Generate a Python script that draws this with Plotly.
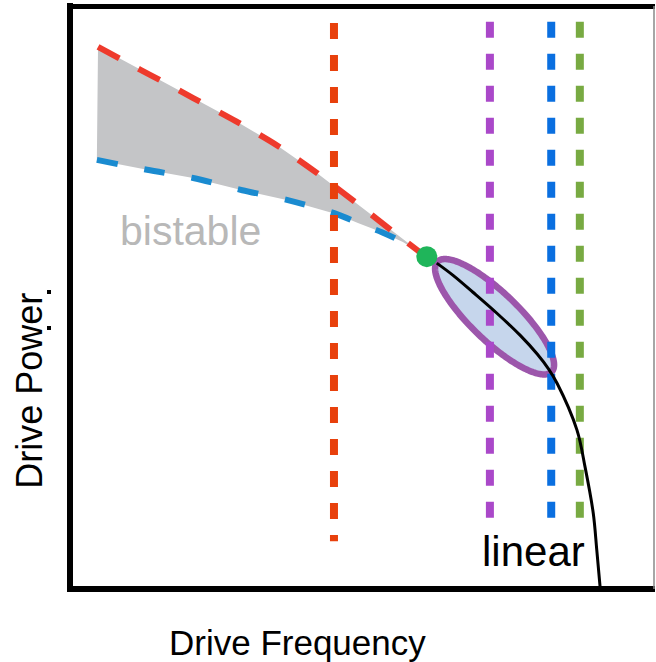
import numpy as np
import plotly.graph_objects as go

# ---- data (arbitrary units: frequency 0..10, power 0..10) ----
upper_freq = [0.48, 0.99, 1.37, 2.11, 2.83, 3.56, 4.25, 4.93, 5.62, 6.03]
upper_power = [9.30, 9.02, 8.82, 8.42, 8.03, 7.60, 7.12, 6.60, 6.06, 5.75]

lower_freq = [0.46, 1.32, 2.11, 2.95, 3.73, 4.57, 4.93, 5.34, 5.70, 6.03]
lower_power = [7.36, 7.19, 7.05, 6.84, 6.67, 6.43, 6.28, 6.12, 5.95, 5.75]

linear_freq = [6.28, 6.56, 6.90, 7.31, 7.71, 8.00, 8.19, 8.34, 8.68, 8.82, 8.96, 9.02, 9.08]
linear_power = [5.59, 5.38, 5.09, 4.73, 4.35, 4.03, 3.78, 3.53, 2.73, 2.09, 1.30, 0.67, 0.0]

critical_point = (6.11, 5.70)

ellipse_center = (7.27, 4.67)
ellipse_half_length = 1.36
ellipse_half_width = 0.41
ellipse_tilt_deg = -44.0

vline_freq = [4.52, 7.19, 8.24, 8.73]
vline_top = [9.71, 9.73, 9.73, 9.73]
vline_bottom = [0.82, 1.22, 1.22, 1.22]
vline_colors = ["#e8400c", "#aa48c9", "#0a6fe0", "#78aa42"]

FONT = "Liberation Sans, Arial, sans-serif"

fig = go.Figure()

# bistable region fill
fig.add_trace(go.Scatter(
    x=upper_freq + lower_freq[::-1], y=upper_power + lower_power[::-1],
    fill="toself", fillcolor="#c4c5c7", line=dict(width=0), mode="lines",
    hoverinfo="skip", showlegend=False))

# lower (blue) and upper (red) bifurcation curves
fig.add_trace(go.Scatter(
    x=lower_freq, y=lower_power, mode="lines",
    line=dict(color="#1a8bd0", width=6, dash="21px,27px", shape="spline", smoothing=0.8, simplify=False),
    showlegend=False))
fig.add_trace(go.Scatter(
    x=upper_freq, y=upper_power, mode="lines",
    line=dict(color="#ee3a2c", width=6, dash="24px,22px", shape="spline", smoothing=0.8, simplify=False),
    showlegend=False))

# ellipse
t = np.linspace(0, 2 * np.pi, 241)
th = np.deg2rad(ellipse_tilt_deg)
ex = ellipse_center[0] + ellipse_half_length * np.cos(t) * np.cos(th) - ellipse_half_width * np.sin(t) * np.sin(th)
ey = ellipse_center[1] + ellipse_half_length * np.cos(t) * np.sin(th) + ellipse_half_width * np.sin(t) * np.cos(th)
fig.add_trace(go.Scatter(
    x=ex, y=ey, fill="toself", fillcolor="#c6d6ec", mode="lines",
    line=dict(color="#9c56ab", width=6.5, simplify=False), showlegend=False))

# vertical dashed lines
for f, top, bot, c in zip(vline_freq, vline_top, vline_bottom, vline_colors):
    fig.add_trace(go.Scatter(
        x=[f, f], y=[top, bot], mode="lines",
        line=dict(color=c, width=8, dash="16px,16px"), showlegend=False))

# linear response curve
fig.add_trace(go.Scatter(
    x=linear_freq, y=linear_power, mode="lines",
    line=dict(color="black", width=3, shape="spline", smoothing=1.0, simplify=False), showlegend=False))

# critical point
fig.add_trace(go.Scatter(
    x=[critical_point[0]], y=[critical_point[1]], mode="markers",
    marker=dict(color="#1fb55a", size=21), showlegend=False))

# frame (left/top/bottom thick, right thin)
W, H = 584.0, 583.0
def px(v):
    return v / W
def py(v):
    return v / H
shapes = [
    dict(type="line", xref="paper", yref="paper", x0=0, x1=0, y0=py(-3), y1=1 + py(3),
         line=dict(color="black", width=6)),
    dict(type="line", xref="paper", yref="paper", x0=px(-3), x1=1 + px(1), y0=1 - py(0.5), y1=1 - py(0.5),
         line=dict(color="black", width=5)),
    dict(type="line", xref="paper", yref="paper", x0=px(-3), x1=1 + px(1), y0=0, y1=0,
         line=dict(color="black", width=6)),
    dict(type="line", xref="paper", yref="paper", x0=1, x1=1, y0=0, y1=1,
         line=dict(color="#888888", width=1.5)),
    # two tiny stray dots beside the axis label
    dict(type="rect", xref="paper", yref="paper", x0=px(-23), x1=px(-19), y0=py(295), y1=py(299),
         fillcolor="black", line=dict(width=0)),
    dict(type="rect", xref="paper", yref="paper", x0=px(-23), x1=px(-19), y0=py(259), y1=py(263),
         fillcolor="black", line=dict(width=0)),
]

annotations = [
    dict(text="bistable", x=2.07, y=6.14, xref="x", yref="y", showarrow=False,
         font=dict(family=FONT, size=41, color="#b8b8b8"), xanchor="center", yanchor="middle"),
    dict(text="linear", x=7.93, y=0.635, xref="x", yref="y", showarrow=False,
         font=dict(family=FONT, size=42, color="black"), xanchor="center", yanchor="middle"),
    dict(text="Drive Frequency", x=0.39, y=-0.0926, xref="paper", yref="paper", showarrow=False,
         font=dict(family=FONT, size=35, color="black"), xanchor="center", yanchor="middle"),
    dict(text="Drive Power", x=-0.0685, y=0.34, xref="paper", yref="paper", showarrow=False,
         textangle=-90, font=dict(family=FONT, size=36, color="black"),
         xanchor="center", yanchor="middle"),
]

fig.update_layout(
    width=656, height=662,
    margin=dict(l=70, r=2, t=6, b=73),
    paper_bgcolor="white", plot_bgcolor="white",
    xaxis=dict(range=[0, 10], visible=False, fixedrange=True),
    yaxis=dict(range=[0, 10], visible=False, fixedrange=True),
    shapes=shapes, annotations=annotations, showlegend=False,
)

fig.write_html("out.html")
